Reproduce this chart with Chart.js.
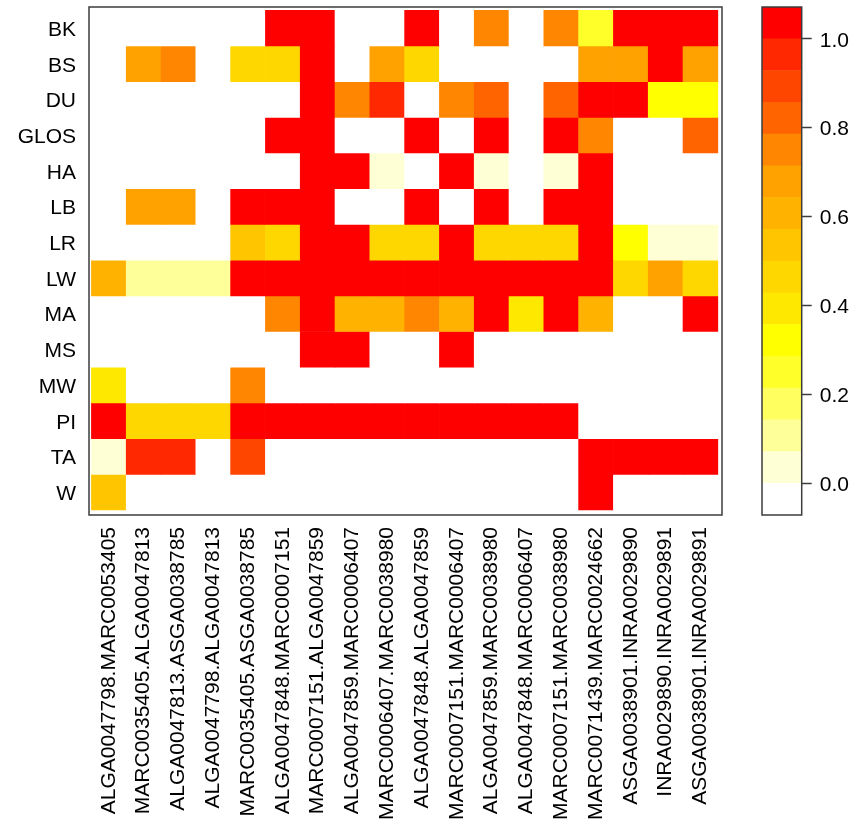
<!DOCTYPE html>
<html>
<head>
<meta charset="utf-8">
<script src="https://cdn.jsdelivr.net/npm/chart.js@4.4.0/dist/chart.umd.min.js"></script>
<style>
    html, body { margin: 0; padding: 0; background: #fff; }
    #mapa { position: absolute; left: 0; top: 0; }
    #barra { position: absolute; left: 740px; top: 0; }
</style>
</head>
<body>
<canvas id="mapa" width="740" height="837"></canvas>
<canvas id="barra" width="116" height="837"></canvas>
<script>
// colunas (pares de marcadores) e linhas (racas)
const marcadores = [
    "ALGA0047798.MARC0053405", "MARC0035405.ALGA0047813", "ALGA0047813.ASGA0038785",
    "ALGA0047798.ALGA0047813", "MARC0035405.ASGA0038785", "ALGA0047848.MARC0007151",
    "MARC0007151.ALGA0047859", "ALGA0047859.MARC0006407", "MARC0006407.MARC0038980",
    "ALGA0047848.ALGA0047859", "MARC0007151.MARC0006407", "ALGA0047859.MARC0038980",
    "ALGA0047848.MARC0006407", "MARC0007151.MARC0038980", "MARC0071439.MARC0024662",
    "ASGA0038901.INRA0029890", "INRA0029890.INRA0029891", "ASGA0038901.INRA0029891"
];
const racas = ["BK", "BS", "DU", "GLOS", "HA", "LB", "LR", "LW", "MA", "MS", "MW", "PI", "TA", "W"];

// valores, uma lista por raca
const valBK   = [0, 0, 0, 0, 0, 1, 1, 0, 0, 1, 0, 0.75, 0, 0.75, 0.25, 1, 1, 1];
const valBS   = [0, 0.68, 0.75, 0, 0.47, 0.47, 1, 0, 0.68, 0.47, 0, 0, 0, 0, 0.68, 0.68, 1, 0.68];
const valDU   = [0, 0, 0, 0, 0, 0, 1, 0.75, 0.95, 0, 0.75, 0.82, 0, 0.82, 1, 1, 0.32, 0.32];
const valGLOS = [0, 0, 0, 0, 0, 1, 1, 0, 0, 1, 0, 1, 0, 1, 0.75, 0, 0, 0.82];
const valHA   = [0, 0, 0, 0, 0, 0, 1, 1, 0.04, 0, 1, 0.04, 0, 0.04, 1, 0, 0, 0];
const valLB   = [0, 0.68, 0.68, 0, 1, 1, 1, 0, 0, 1, 0, 1, 0, 1, 1, 0, 0, 0];
const valLR   = [0, 0, 0, 0, 0.55, 0.47, 1, 1, 0.47, 0.47, 1, 0.47, 0.47, 0.47, 1, 0.32, 0.04, 0.04];
const valLW   = [0.6, 0.12, 0.12, 0.12, 1, 1, 1, 1, 1, 1, 1, 1, 1, 1, 1, 0.47, 0.68, 0.47];
const valMA   = [0, 0, 0, 0, 0, 0.75, 1, 0.6, 0.6, 0.75, 0.6, 1, 0.4, 1, 0.6, 0, 0, 1];
const valMS   = [0, 0, 0, 0, 0, 0, 1, 1, 0, 0, 1, 0, 0, 0, 0, 0, 0, 0];
const valMW   = [0.4, 0, 0, 0, 0.75, 0, 0, 0, 0, 0, 0, 0, 0, 0, 0, 0, 0, 0];
const valPI   = [1, 0.47, 0.47, 0.47, 1, 1, 1, 1, 1, 1, 1, 1, 1, 1, 0, 0, 0, 0];
const valTA   = [0.04, 0.95, 0.95, 0, 0.9, 0, 0, 0, 0, 0, 0, 0, 0, 0, 1, 1, 1, 1];
const valW    = [0.55, 0, 0, 0, 0, 0, 0, 0, 0, 0, 0, 0, 0, 0, 1, 0, 0, 0];

// escala de cores (de baixo para cima na barra) e marcas da barra
const paleta = [
    "#FFFFFF", "#FFFFD5", "#FFFF99", "#FFFF60", "#FFFF2A", "#FFFF00", "#FFE800", "#FFD700",
    "#FFC600", "#FFB200", "#FFA200", "#FF8600", "#FF6400", "#FF4600", "#FF2800", "#FF0000"
];
const passos = 14;
const ticksBarra = [0, 0.2, 0.4, 0.6, 0.8, 1.0];

const valores = [valBK, valBS, valDU, valGLOS, valHA, valLB, valLR, valLW, valMA, valMS, valMW, valPI, valTA, valW];

const fonte = { family: "'Liberation Sans', Arial, sans-serif", size: 21 };

function corDoValor(v) {
    if (v <= 0) return paleta[0];
    return paleta[Math.min(paleta.length - 1, Math.floor(v * passos) + 1)];
}

// desenha a moldura em volta da area do grafico
const moldura = {
    id: "moldura",
    afterDraw(chart) {
        const a = chart.chartArea;
        const ctx = chart.ctx;
        ctx.save();
        ctx.strokeStyle = "#3c3c3c";
        ctx.lineWidth = 1.5;
        ctx.strokeRect(a.left, a.top, a.right - a.left, a.bottom - a.top);
        ctx.restore();
    }
};

const conjuntos = racas.map((r, i) => ({
    label: r,
    data: valores[i].map((v, j) => ({ x: j + 0.5, y: [i, i + 1] })),
    backgroundColor: valores[i].map(corDoValor),
    borderWidth: 0,
    barPercentage: 1,
    categoryPercentage: 1,
    grouped: false
}));

new Chart(document.getElementById("mapa"), {
    type: "bar",
    data: { datasets: conjuntos },
    plugins: [moldura],
    options: {
        responsive: false,
        animation: false,
        devicePixelRatio: 1,
        layout: { padding: { top: 7, right: 18, left: 0, bottom: 0 } },
        plugins: { legend: { display: false }, tooltip: { enabled: false } },
        scales: {
            x: {
                type: "linear",
                offset: false,
                min: -0.07,
                max: 18.12,
                grid: { display: false, drawTicks: false, offset: false },
                border: { display: false },
                ticks: {
                    autoSkip: false,
                    minRotation: 90,
                    maxRotation: 90,
                    padding: 12,
                    color: "#000",
                    font: fonte,
                    callback: (v) => marcadores[Math.floor(v)]
                },
                afterBuildTicks: (s) => { s.ticks = marcadores.map((m, j) => ({ value: j + 0.5 })); },
                afterFit: (s) => { s.height = 322; s.paddingLeft = 0; s.paddingRight = 0; }
            },
            y: {
                type: "linear",
                reverse: true,
                min: -0.09,
                max: 14.14,
                grid: { display: false, drawTicks: false },
                border: { display: false },
                ticks: {
                    padding: 13,
                    labelOffset: 2,
                    color: "#000",
                    font: fonte,
                    callback: (v) => racas[Math.floor(v)]
                },
                afterBuildTicks: (s) => { s.ticks = racas.map((r, i) => ({ value: i + 0.5 })); },
                afterFit: (s) => { s.width = 89; s.paddingTop = 0; s.paddingBottom = 0; }
            }
        }
    }
});

// barra de cores
const faixas = paleta.map((c, k) => ({
    data: [[(k - 1) / passos, k / passos]],
    backgroundColor: c,
    borderWidth: 0,
    barPercentage: 1,
    categoryPercentage: 1,
    grouped: false
}));

new Chart(document.getElementById("barra"), {
    type: "bar",
    data: { labels: [""], datasets: faixas },
    plugins: [moldura],
    options: {
        responsive: false,
        animation: false,
        devicePixelRatio: 1,
        layout: { padding: { top: 7, right: 0, left: 22, bottom: 322 } },
        plugins: { legend: { display: false }, tooltip: { enabled: false } },
        scales: {
            x: { display: false },
            y: {
                position: "right",
                min: -1 / passos,
                max: 1 + 1 / passos,
                grid: { display: true, drawOnChartArea: false, drawTicks: true, tickLength: 10, tickColor: "#3c3c3c", tickWidth: 1.5 },
                border: { display: false },
                ticks: {
                    padding: 8,
                    labelOffset: 2,
                    color: "#000",
                    font: fonte,
                    callback: (v) => v.toFixed(1)
                },
                afterBuildTicks: (s) => { s.ticks = ticksBarra.map((v) => ({ value: v })); },
                afterFit: (s) => { s.width = 54.3; s.paddingTop = 0; s.paddingBottom = 0; }
            }
        }
    }
});
</script>
</body>
</html>
